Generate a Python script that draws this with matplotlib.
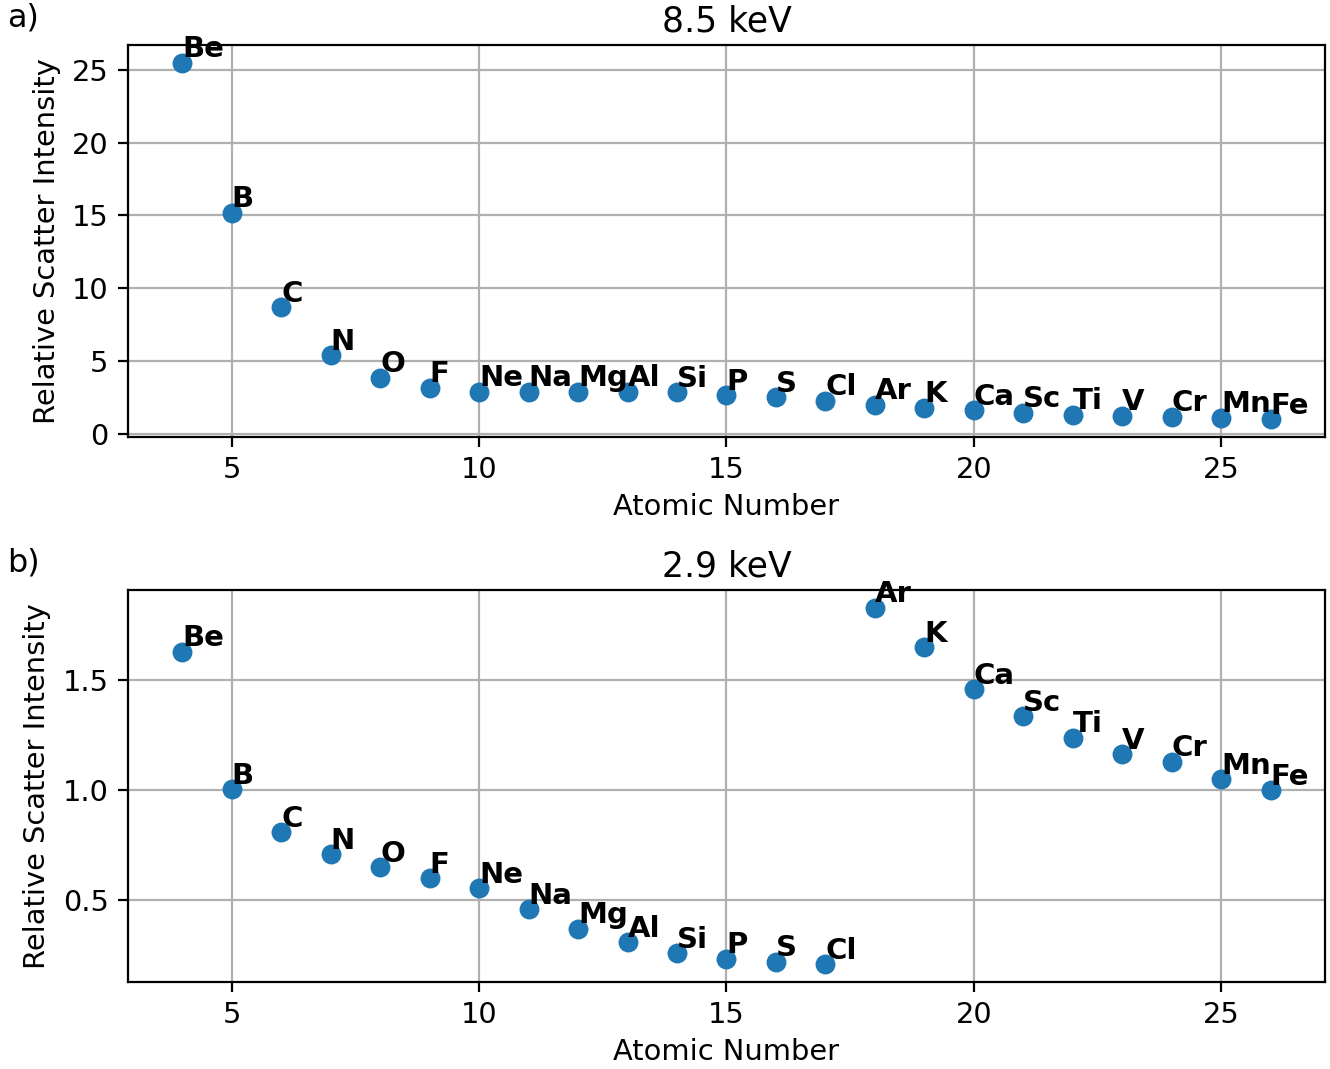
import matplotlib.pyplot as plt
import numpy as np

elements = ['Be', 'B', 'C', 'N', 'O', 'F', 'Ne', 'Na', 'Mg', 'Al', 'Si', 'P',
            'S', 'Cl', 'Ar', 'K', 'Ca', 'Sc', 'Ti', 'V', 'Cr', 'Mn', 'Fe']
atomic_number = list(range(4, 27))

# relative scatter intensity (normalised to Fe)
scatter_85 = [25.5, 15.2, 8.7, 5.4, 3.85, 3.15, 2.9, 2.9, 2.9, 2.9, 2.85, 2.65,
              2.5, 2.25, 2.0, 1.8, 1.6, 1.45, 1.32, 1.25, 1.18, 1.1, 1.0]
scatter_29 = [1.63, 1.005, 0.81, 0.71, 0.65, 0.60, 0.555, 0.46, 0.37, 0.31, 0.26, 0.235,
              0.22, 0.21, 1.83, 1.65, 1.46, 1.336, 1.24, 1.164, 1.13, 1.05, 1.0]

plt.rcParams['font.size'] = 10.4

fig, axs = plt.subplots(2, 1, figsize=(6.65, 5.345), dpi=200)
plt.subplots_adjust(left=0.0962, right=0.9962, top=0.958, bottom=0.0814, hspace=0.39)

for ax, vals, title in zip(axs, [scatter_85, scatter_29], ['8.5 keV', '2.9 keV']):
    ax.scatter(atomic_number, vals, s=38, zorder=3)
    for z, v, name in zip(atomic_number, vals, elements):
        ax.annotate(name, (z, v), xytext=(0, 2), textcoords='offset points',
                    fontweight='bold', fontsize=10.5, zorder=4)
    ax.set_title(title, pad=5)
    ax.set_xlabel('Atomic Number', labelpad=3)
    ax.set_ylabel('Relative Scatter Intensity')
    ax.grid(True)

fig.text(0.005, 0.975, 'a)', fontsize=11.5)
fig.text(0.005, 0.465, 'b)', fontsize=11.5)

plt.savefig('out.png')
